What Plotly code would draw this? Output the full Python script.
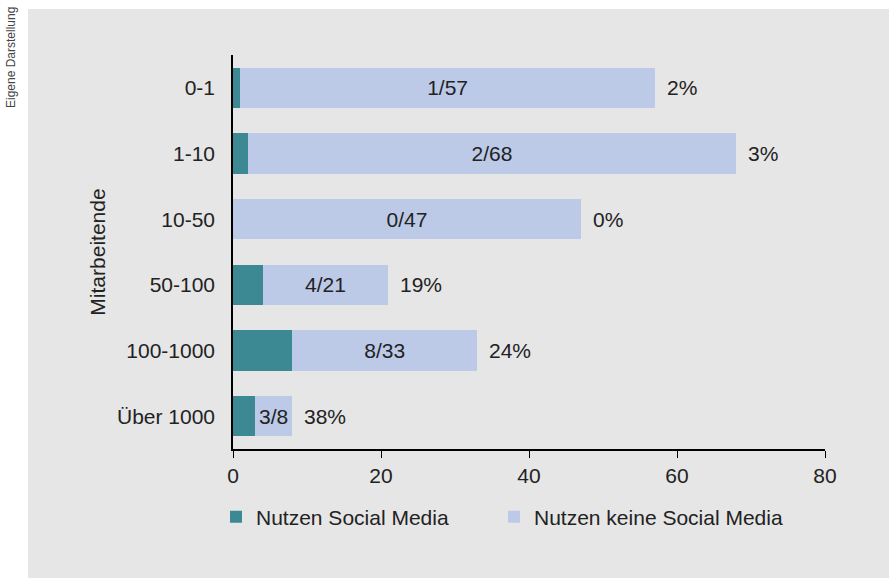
import plotly.graph_objects as go

# Mitarbeitende groups, top to bottom
groups = ['0-1', '1-10', '10-50', '50-100', '100-1000', 'Über 1000']
nutzen = [1, 2, 0, 4, 8, 3]          # use social media
gesamt = [57, 68, 47, 21, 33, 8]     # companies per group
nicht_nutzen = [g - n for g, n in zip(gesamt, nutzen)]

x_ticks = [0, 20, 40, 60, 80]

teal = '#3d8993'
light = '#bccae8'
txt = '#222222'
font_family = 'Liberation Sans'

# plot area in pixels (889 x 578 window)
W, H = 889, 578
L, R, T, B = 233, 64, 55, 129
pw, ph = W - L - R, H - T - B


def px(x):
    return (x - L) / pw


def py(y):
    return 1 - (y - T) / ph


fig = go.Figure()
fig.add_trace(go.Bar(
    name='Nutzen Social Media', y=groups, x=nutzen, orientation='h',
    marker=dict(color=teal, line=dict(width=0)), legend='legend', showlegend=True,
))
fig.add_trace(go.Bar(
    name='Nutzen keine Social Media', y=groups, x=nicht_nutzen, orientation='h',
    marker=dict(color=light, line=dict(width=0)), legend='legend2', showlegend=True,
    text=[f'{n}/{g}' for n, g in zip(nutzen, gesamt)],
    textposition='inside', insidetextanchor='middle',
    textfont=dict(size=21, color=txt, family=font_family),
))

# percentage labels right of each bar
for grp, n, g in zip(groups, nutzen, gesamt):
    fig.add_annotation(x=g, y=grp, text=f'{round(100 * n / g)}%', showarrow=False,
                       xanchor='left', xshift=10,
                       font=dict(size=21, color=txt, family=font_family))

# source note, rotated in the white strip
fig.add_annotation(x=px(11), y=py(58), xref='paper', yref='paper',
                   xanchor='center', yanchor='middle',
                   text='Eigene Darstellung', textangle=-90, showarrow=False,
                   font=dict(size=12, color='#444444', family=font_family))

# grey panel behind everything
fig.add_shape(type='rect', xref='paper', yref='paper', layer='below',
              x0=px(28), x1=px(W + 5), y0=py(9), y1=py(H + 5),
              fillcolor='#e6e6e6', line=dict(width=0))

leg = dict(orientation='h', yanchor='middle', xanchor='left', visible=True,
           font=dict(size=21, color=txt), bgcolor='rgba(0,0,0,0)')

fig.update_layout(
    width=W, height=H,
    margin=dict(l=L, r=R, t=T, b=B),
    barmode='stack', bargap=0.39,
    paper_bgcolor='white', plot_bgcolor='#e3f2fb',
    font=dict(family=font_family, size=21, color=txt),
    uniformtext=dict(mode='show', minsize=21),
    showlegend=True,
    legend=dict(leg, x=px(216), y=py(517)),
    legend2=dict(leg, x=px(494), y=py(517)),
)
fig.update_xaxes(range=[0, 80], tickvals=x_ticks, showgrid=False, zeroline=False,
                 showline=True, linecolor='black', linewidth=1.5,
                 ticks='outside', ticklen=7, tickcolor='black', tickfont=dict(size=21))
fig.update_yaxes(autorange='reversed', showgrid=False, zeroline=False,
                 showline=True, linecolor='black', linewidth=1.5,
                 ticks='', ticklabelstandoff=12, tickfont=dict(size=21),
                 title=dict(text='Mitarbeitende', standoff=6, font=dict(size=21)))

fig.write_html('out.html', config={'displayModeBar': False},
               post_script="document.body.style.margin='0';")
